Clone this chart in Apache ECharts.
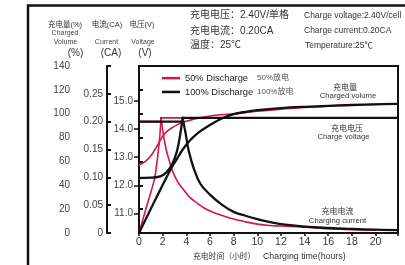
<!DOCTYPE html>
<html><head><meta charset="utf-8">
<script src="https://cdn.jsdelivr.net/npm/echarts@6/dist/echarts.min.js"></script>
<style>html,body{margin:0;padding:0;background:#fff}#c{width:405px;height:265px}</style>
</head><body><div id="c"></div>
<script>
// ---- data (hours, value) ----
const xTicks = [0,2,4,6,8,10,12,14,16,18,20];
const voltTicks = [11,12,13,14,15];
// 50% discharge (red)
const volt50Rise = [[0,10.3],[0.65,11.25],[1.3,12.2],[1.45,12.6],[1.6,13.1],[1.75,13.7],[1.86,14.4]];
const volt50Hold = [[1.86,14.4],[21.9,14.4]];
const amp50Hold = [[0,0.2],[1.86,0.2]];
const amp50Fall = [[1.86,0.207],[2.1,0.172],[2.3,0.15],[2.6,0.127],[2.9,0.108],[3.3,0.091],[3.8,0.077],[4.3,0.064],[4.9,0.054],[5.5,0.045],[6.3,0.037],[7.1,0.031],[8,0.025],[9,0.02],[10,0.016],[11,0.0135],[12,0.0125],[14,0.0105],[16,0.0075],[18,0.006],[20,0.005]];
const vol50 = [[0,57],[0.6,60.5],[1.1,66],[1.7,76],[2.1,82.5],[2.6,87],[3.4,91.5],[4.2,94.2],[5,96.3],[6,98.1],[7,99.2],[8,99.9],[9,100.9],[10,102],[12,103.8],[14,105.2],[16,106.4],[18,107.2],[20,107.9],[21.9,108.3]];
// 100% discharge (black)
const volt100Rise = [[0,12.26],[1.0,12.27],[1.8,12.32],[2.3,12.45],[2.8,12.75],[3.2,13.2],[3.5,13.85],[3.69,14.4]];
const volt100Hold = [[3.69,14.4],[21.9,14.4]];
const amp100Hold = [[0,0.2],[3.69,0.2]];
const amp100Fall = [[3.69,0.207],[3.95,0.178],[4.2,0.148],[4.6,0.118],[5.2,0.088],[6,0.069],[7,0.051],[8,0.038],[9,0.031],[10,0.025],[11,0.02],[12,0.016],[14,0.0115],[16,0.009],[18,0.0073],[20,0.006],[21.9,0.005]];
const vol100 = [[0,0],[2.6,52],[3.2,62],[3.7,70],[4.3,77.5],[5,84],[6,90.5],[7,96],[8,99.6],[9,101.6],[10,103],[12,104.7],[14,105.8],[16,106.6],[18,107.3],[20,107.9],[21.9,108.3]];

const RED = '#cf1846', BLK = '#111';
const FF = 'Liberation Sans, Arial, Noto Sans CJK SC, sans-serif';
const chart = echarts.init(document.getElementById('c'), null, {renderer:'canvas'});

function line(name, data, yi, color, w, smooth){
  return {name, type:'line', data, yAxisIndex:yi, color, symbol:'none', smooth: smooth?0.4:false,
    lineStyle:{color, width:w, join:'round', cap:'round'}, silent:true, z: color===BLK?3:2};
}
const ax = {axisLine:{show:true, lineStyle:{color:BLK, width:2}}, splitLine:{show:false}};
function txt(text, x, y, size, fill, align){
  return {type:'text', x, y, silent:true, style:{text, fontSize:size, fontFamily:FF, fill:fill||'#333', align:align||'center', verticalAlign:'middle'}};
}
chart.setOption({
  animation:false,
  grid:{left:139, right:7, top:66, bottom:32, show:true, borderColor:BLK, borderWidth:2},
  xAxis:{type:'value', min:0, max:21.9, interval:2, ...ax,
    axisTick:{show:true, length:3, lineStyle:{color:BLK, width:1.5}},
    axisLabel:{fontSize:10.5, color:'#333', margin:4, fontFamily:FF, formatter:v=> xTicks.includes(v)? String(v):''}},
  yAxis:[
    {type:'value', min:0, max:140, interval:20, position:'left', offset:65, ...ax,
      axisTick:{show:true, inside:true, length:4, lineStyle:{color:BLK, width:2}},
      axisLabel:{fontSize:10, color:'#444', margin:4, fontFamily:FF}},
    {type:'value', min:0, max:0.3, interval:0.05, position:'left', offset:32, ...ax,
      axisTick:{show:true, inside:true, length:4, lineStyle:{color:BLK, width:2}},
      axisLabel:{fontSize:10, color:'#444', margin:4, fontFamily:FF, formatter:v=> v>0.29?'':(v===0?'0':v.toFixed(2))}},
    {type:'value', min:10.3, max:16.25, position:'left', offset:0, ...ax,
      axisTick:{show:true, length:5, customValues:voltTicks, lineStyle:{color:BLK, width:1.5}},
      axisLabel:{fontSize:10, color:'#444', margin:6, fontFamily:FF, customValues:voltTicks, formatter:v=>v.toFixed(1)}}
  ],
  legend:{left:162, top:73.5, orient:'vertical', itemWidth:18, itemHeight:2.5, itemGap:4.5, padding:0, icon:'rect', selectedMode:false,
    data:['50% Discharge','100% Discharge'],
    formatter:n=>'{a|'+n+'}{b|'+n.split(' ')[0]+'放电}',
    textStyle:{rich:{a:{fontSize:9.3, color:'#222', width:72, fontFamily:FF}, b:{fontSize:8, color:'#555', fontFamily:FF}}}},
  series:[
    line('50% Discharge', vol50, 0, RED, 1.6, true),
    line('50% Discharge', amp50Hold, 1, RED, 1.6, false),
    line('50% Discharge', amp50Fall, 1, RED, 1.6, true),
    line('50% Discharge', volt50Rise, 2, RED, 1.6, true),
    line('50% Discharge', volt50Hold, 2, RED, 1.6, false),
    line('100% Discharge', vol100, 0, BLK, 2.3, true),
    line('100% Discharge', amp100Hold, 1, BLK, 2.3, false),
    line('100% Discharge', amp100Fall, 1, BLK, 2.3, true),
    line('100% Discharge', volt100Rise, 2, BLK, 2.3, true),
    line('100% Discharge', volt100Hold, 2, BLK, 2.3, false)
  ],
  graphic:[
    {type:'rect', silent:true, shape:{x:28, y:5.5, width:500, height:400}, style:{fill:'none', stroke:BLK, lineWidth:2.5}},
    txt('充电量(%)', 65, 25, 7.5, '#333'),
    txt('Charged', 65, 33.3, 7, '#444'),
    txt('Volume', 65.5, 41.7, 7, '#444'),
    txt('电流(CA)', 107, 25, 7.5, '#333'),
    txt('Current', 106.5, 41.7, 7, '#444'),
    txt('电压(V)', 142, 25, 7.5, '#333'),
    txt('Voltage', 143, 42, 7, '#444'),
    txt('(%)', 75.5, 53, 10, '#333'),
    txt('(CA)', 111, 53, 10, '#333'),
    txt('(V)', 145, 53, 10, '#333'),
    txt('充电电压：2.40V/单格', 190, 15.7, 10, '#333', 'left'),
    txt('充电电流：0.20CA', 190, 31, 10, '#333', 'left'),
    txt('温度：25℃', 190, 45.7, 10, '#333', 'left'),
    txt('Charge voltage:2.40V/cell', 304, 15.7, 8.5, '#333', 'left'),
    txt('Charge current:0.20CA', 304, 31, 8.5, '#333', 'left'),
    txt('Temperature:25℃', 305, 45.5, 8.5, '#333', 'left'),
    txt('充电量', 345, 87.3, 8, '#333'),
    txt('Charged volume', 348, 96, 7.7, '#333'),
    txt('充电电压', 347, 129, 8, '#333'),
    txt('Charge voltage', 343.5, 137.3, 7.7, '#333'),
    txt('充电电流', 337.5, 211.7, 8, '#333'),
    txt('Charging current', 337.5, 220.7, 7.7, '#333'),
    txt('充电时间（小时）', 193, 256.7, 7.8, '#333', 'left'),
    txt('Charging time(hours)', 263, 256.7, 8.8, '#333', 'left')
  ]
});
</script></body></html>
